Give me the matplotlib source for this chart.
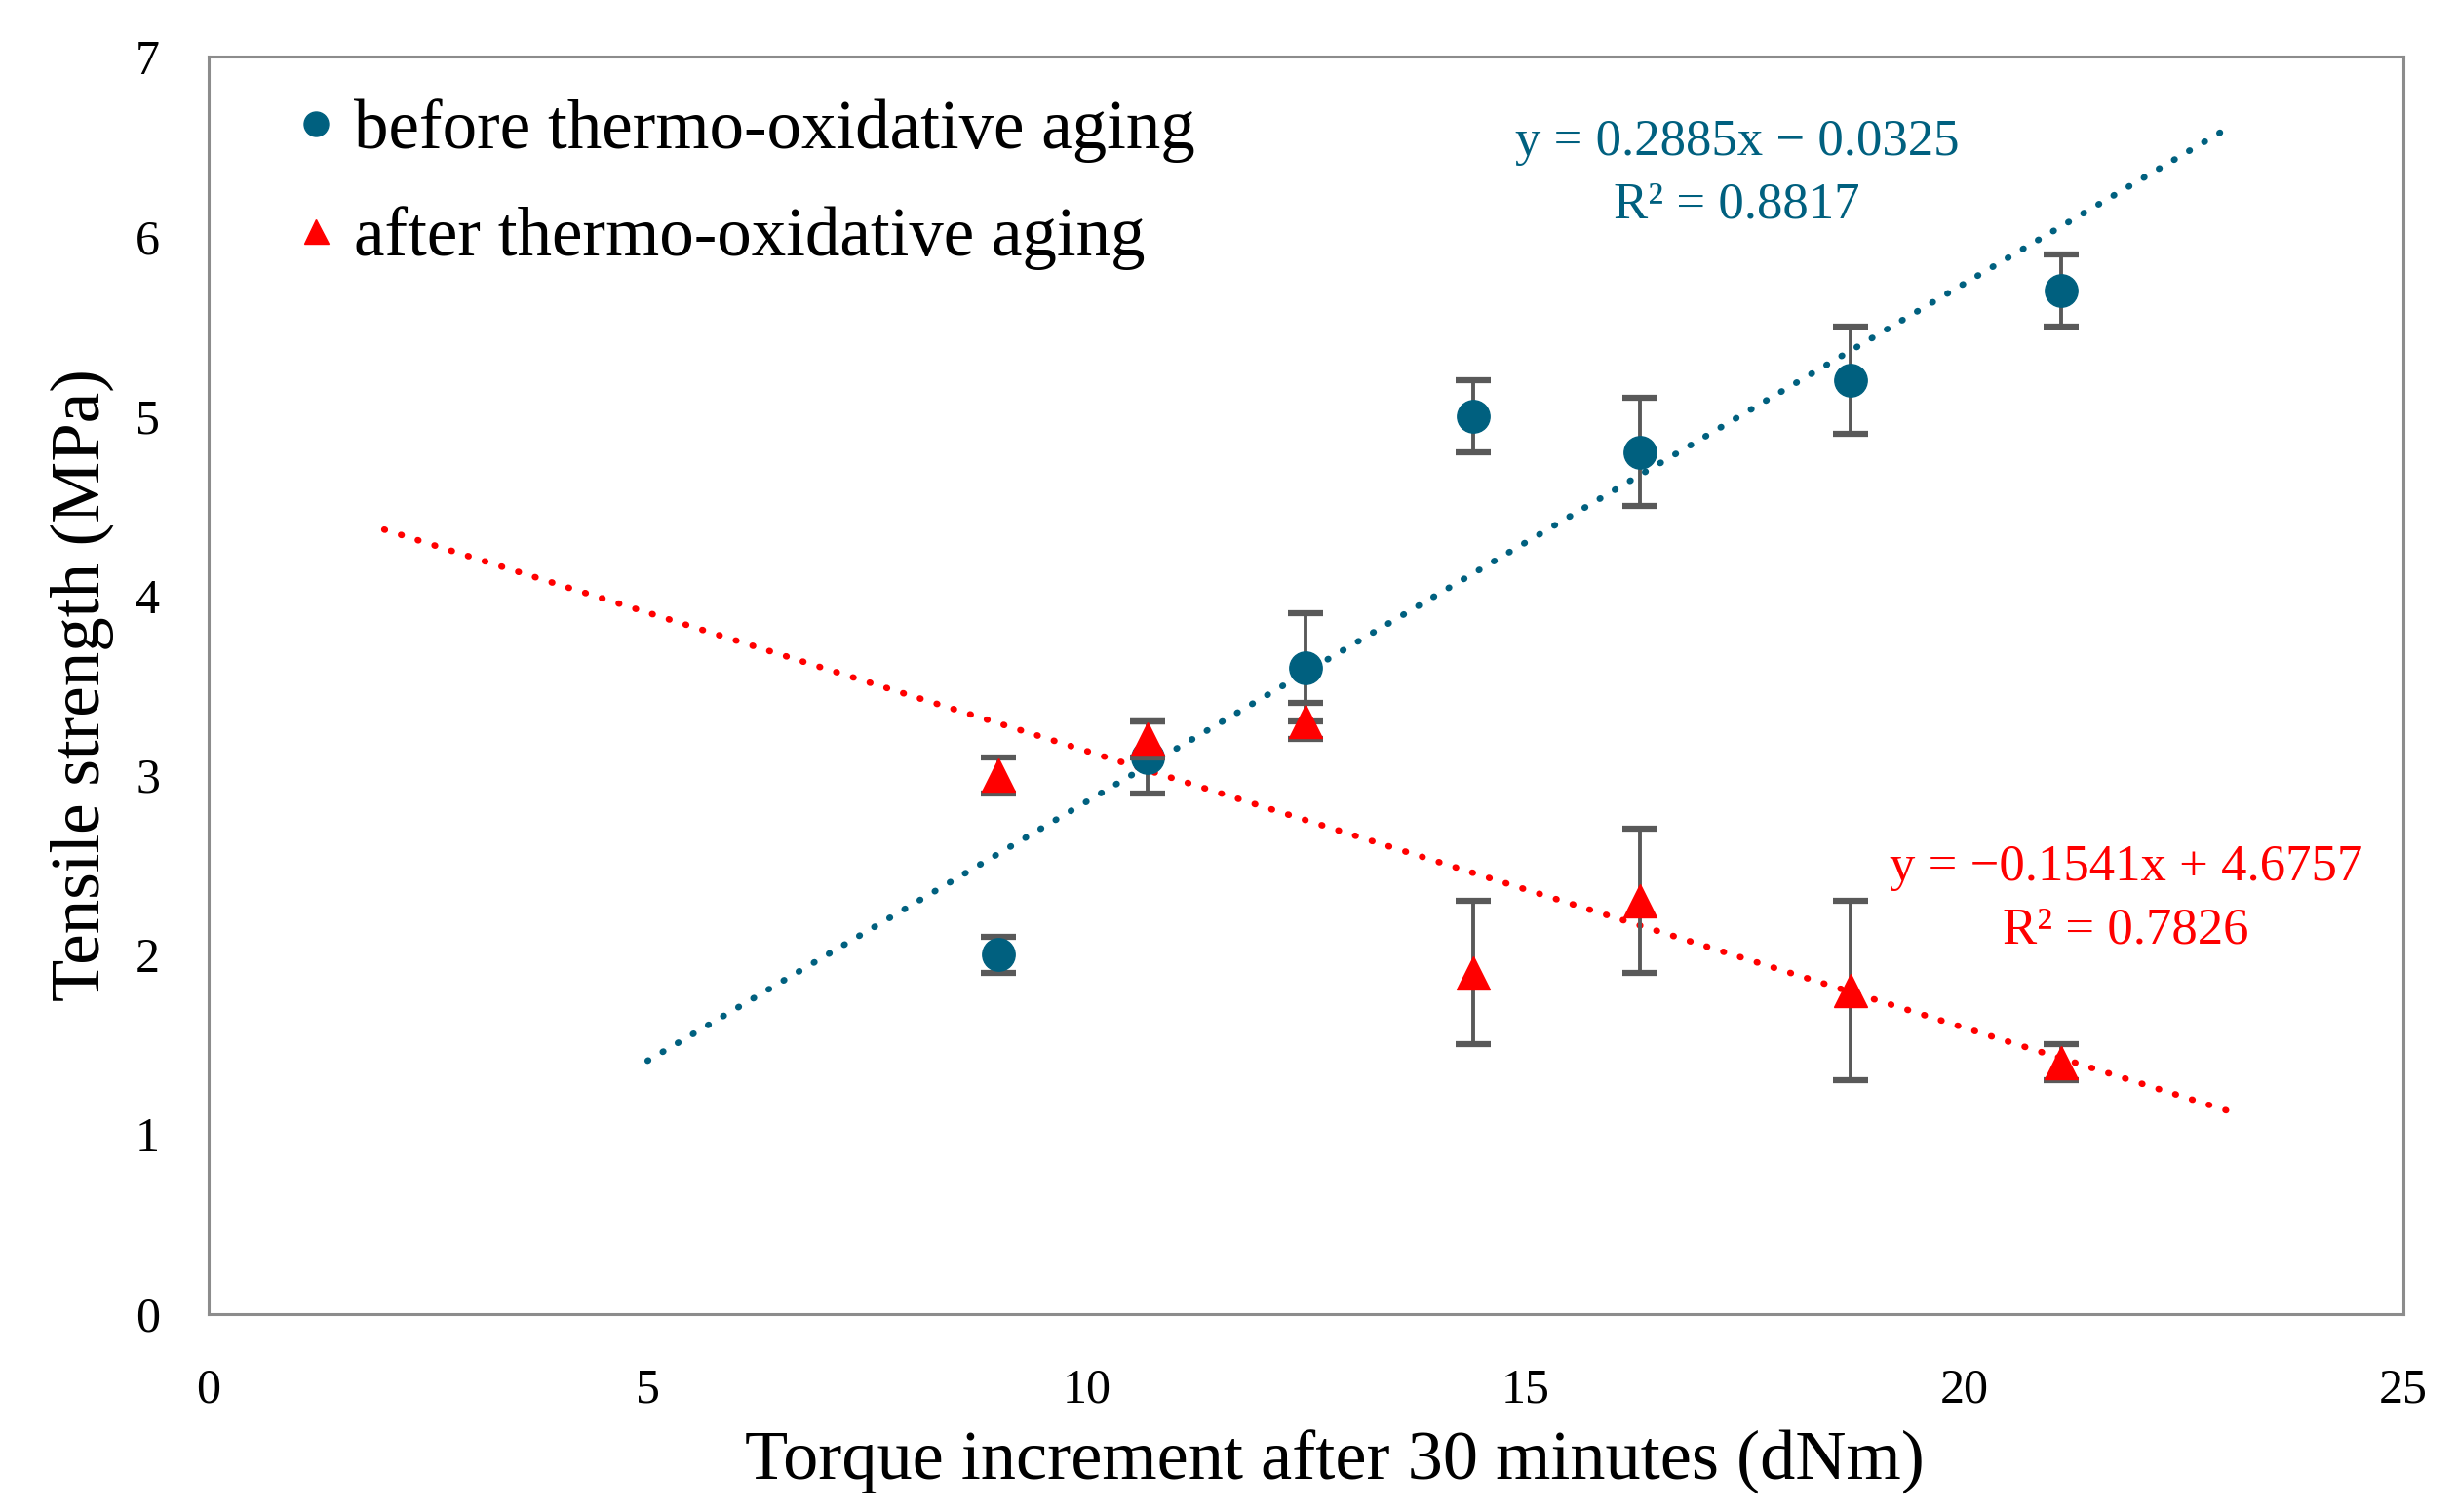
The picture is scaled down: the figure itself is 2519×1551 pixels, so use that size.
import matplotlib.pyplot as plt

# data
torque = [9.0, 10.7, 12.5, 14.4, 16.3, 18.7, 21.1]
ts_before = [2.0, 3.1, 3.6, 5.0, 4.8, 5.2, 5.7]
err_before = [0.1, 0.2, 0.3, 0.2, 0.3, 0.3, 0.2]
ts_after = [3.0, 3.2, 3.3, 1.9, 2.3, 1.8, 1.4]
err_after = [0.1, 0.1, 0.1, 0.4, 0.4, 0.5, 0.1]

# trendline coefficients and ranges (as printed on the chart)
fit_before = (0.2885, -0.0325)
fit_after = (-0.1541, 4.6757)
range_before = [5, 23]
range_after = [2, 23]

blue = "#00607F"
red = "#FF0000"
grey = "#595959"

plt.rcParams['font.family'] = ['Liberation Serif', 'DejaVu Serif']

fig = plt.figure(figsize=(25.19, 15.51), dpi=100)
ax = fig.add_axes([0.085, 0.131, 0.8935, 0.8314])

# trendlines
xb = range_before
yb = [fit_before[0] * x + fit_before[1] for x in xb]
ax.plot(xb, yb, color=blue, lw=4.8, linestyle=(0, (0.1, 2.6)),
        dash_capstyle='round', zorder=2)
xa = range_after
ya = [fit_after[0] * x + fit_after[1] for x in xa]
ax.plot(xa, ya, color=red, lw=4.8, linestyle=(0, (0.1, 2.6)),
        dash_capstyle='round', zorder=2)

# data with error bars
ax.errorbar(torque, ts_before, yerr=err_before, fmt='o', color=blue,
            ms=24, ecolor=grey, elinewidth=2.8, capsize=13, capthick=4.5,
            label='before thermo-oxidative aging', zorder=3)
ax.errorbar(torque, ts_after, yerr=err_after, fmt='^', color=red,
            ms=24, ecolor=grey, elinewidth=2.8, capsize=13, capthick=4.5,
            label='after thermo-oxidative aging', zorder=4)

# equation labels
ax.text(17.41, 6.35, 'y = 0.2885x \u2212 0.0325\nR\u00b2 = 0.8817', color=blue,
        fontsize=38, ha='center', va='center', linespacing=1.45)
ax.text(21.84, 2.31, 'y = \u22120.1541x + 4.6757\nR\u00b2 = 0.7826', color=red,
        fontsize=38, ha='center', va='center', linespacing=1.45)

ax.set_xlim(0, 25)
ax.set_ylim(0, 7)
ax.set_xticks(range(0, 26, 5))
ax.set_yticks(range(0, 8))
ax.tick_params(axis='both', length=0, labelsize=36)
ax.tick_params(axis='x', pad=40)
ax.tick_params(axis='y', pad=36)
for s in ax.spines.values():
    s.set_color('#8C8C8C')
    s.set_linewidth(2.2)

ax.set_xlabel('Torque increment after 30 minutes (dNm)', fontsize=52,
              labelpad=12, x=0.513)
ax.set_ylabel('Tensile strength (MPa)', fontsize=51, labelpad=16)

handles, labels = ax.get_legend_handles_labels()
handles = [h[0] for h in handles]
ax.legend(handles, labels, loc='upper left', frameon=False, fontsize=51,
          handletextpad=0.05, handlelength=1.0, markerscale=0.75,
          labelspacing=0.62, bbox_to_anchor=(0.011, 1.005), borderaxespad=0.3)

fig.savefig('out.png', dpi=100)
